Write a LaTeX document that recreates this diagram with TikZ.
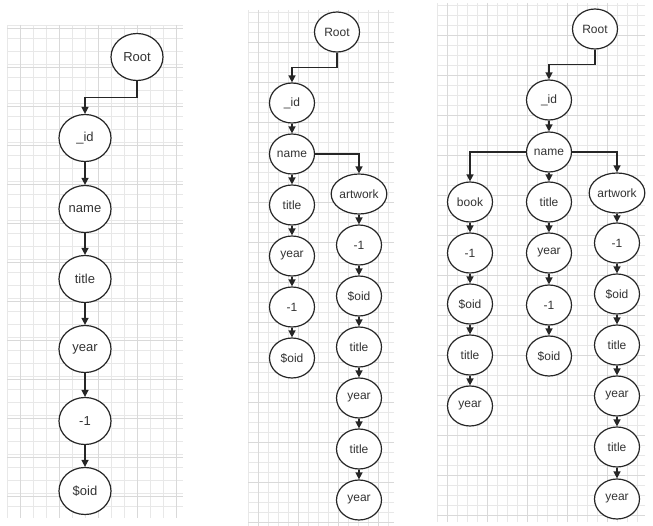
\documentclass[tikz,border=0pt]{standalone}
\usepackage{fontspec}
\setmainfont{Liberation Sans}
\usetikzlibrary{shapes.geometric,arrows.meta,calc}
\begin{document}
\begin{tikzpicture}[x=1pt,y=-1pt,
 nodeA/.style={ellipse,draw=black!85,line width=1.2pt,fill=white,minimum width=52pt,minimum height=47pt,inner sep=0pt,font=\fontsize{13}{13}\selectfont,text=black!80},
 nodeB/.style={ellipse,draw=black!85,line width=1.2pt,fill=white,minimum width=45pt,minimum height=40pt,inner sep=0pt,font=\fontsize{12}{12}\selectfont,text=black!80},
 conn/.style={line width=1.4pt,draw=black!85,-{Triangle[width=7pt,length=7pt]}},
 minor/.style={draw=black!9,line width=0.5pt},
 major/.style={draw=black!15,line width=0.7pt}]
\useasboundingbox (0,0) rectangle (653,526);
% grid panel 1
\foreach \x in {7,20,...,183} \draw[minor] (\x,25) -- (\x,518);
\foreach \y in {25,38,...,518} \draw[minor] (7,\y) -- (183,\y);
\foreach \x in {20,59,...,183} \draw[major] (\x,25) -- (\x,518);
\foreach \y in {28,67,...,518} \draw[major] (7,\y) -- (183,\y);
% grid panel 2
\foreach \x in {248,258,...,394} \draw[minor] (\x,10) -- (\x,526);
\foreach \y in {12,22,...,526} \draw[minor] (248,\y) -- (394,\y);
\foreach \x in {258,298,...,394} \draw[major] (\x,10) -- (\x,526);
\foreach \y in {42,82,...,526} \draw[major] (248,\y) -- (394,\y);
% grid panel 3
\foreach \x in {437,447,...,645} \draw[minor] (\x,3) -- (\x,522);
\foreach \y in {5,15,...,522} \draw[minor] (437,\y) -- (645,\y);
\foreach \x in {447,487,...,645} \draw[major] (\x,3) -- (\x,522);
\foreach \y in {35,75,...,522} \draw[major] (437,\y) -- (645,\y);

% panel 1
\node[nodeA] (r1) at (137,57) {Root};
\node[nodeA] (i1) at (85,138) {\_id};
\node[nodeA] (n1) at (85,209) {name};
\node[nodeA] (t1) at (85,279) {title};
\node[nodeA] (y1) at (85,349) {year};
\node[nodeA] (m1) at (85,421) {-1};
\node[nodeA] (o1) at (85,491) {\$oid};
\draw[conn] (r1.south) |- ($(r1.south)!0.5!(i1.north)$) -| (i1.north);
\draw[conn] (i1) -- (n1);
\draw[conn] (n1) -- (t1);
\draw[conn] (t1) -- (y1);
\draw[conn] (y1) -- (m1);
\draw[conn] (m1) -- (o1);

% panel 2
\node[nodeB] (r2) at (337,32) {Root};
\node[nodeB] (i2) at (292,103) {\_id};
\node[nodeB] (n2) at (292,154) {name};
\node[nodeB] (t2) at (292,205) {title};
\node[nodeB] (y2) at (292,256) {year};
\node[nodeB] (m2) at (292,307) {-1};
\node[nodeB] (o2) at (292,358) {\$oid};
\node[nodeB] (a2) at (359,194) {artwork};
\node[nodeB] (am2) at (359,245) {-1};
\node[nodeB] (ao2) at (359,296) {\$oid};
\node[nodeB] (at2) at (359,347) {title};
\node[nodeB] (ay2) at (359,398) {year};
\node[nodeB] (atb2) at (359,449) {title};
\node[nodeB] (ayb2) at (359,500) {year};
\draw[conn] (r2.south) |- ($(r2.south)!0.5!(i2.north)$) -| (i2.north);
\draw[conn] (i2) -- (n2);
\draw[conn] (n2) -- (t2);
\draw[conn] (t2) -- (y2);
\draw[conn] (y2) -- (m2);
\draw[conn] (m2) -- (o2);
\draw[conn] (n2.east) -| (a2.north);
\draw[conn] (a2) -- (am2);
\draw[conn] (am2) -- (ao2);
\draw[conn] (ao2) -- (at2);
\draw[conn] (at2) -- (ay2);
\draw[conn] (ay2) -- (atb2);
\draw[conn] (atb2) -- (ayb2);

% panel 3
\node[nodeB] (r3) at (595,29) {Root};
\node[nodeB] (i3) at (549,100) {\_id};
\node[nodeB] (n3) at (549,152) {name};
\node[nodeB] (b3) at (470,202) {book};
\node[nodeB] (bm3) at (470,253) {-1};
\node[nodeB] (bo3) at (470,304) {\$oid};
\node[nodeB] (bt3) at (470,355) {title};
\node[nodeB] (by3) at (470,406) {year};
\node[nodeB] (t3) at (549,202) {title};
\node[nodeB] (y3) at (549,253) {year};
\node[nodeB] (m3) at (549,305) {-1};
\node[nodeB] (o3) at (549,356) {\$oid};
\node[nodeB] (a3) at (617,193) {artwork};
\node[nodeB] (am3) at (617,243) {-1};
\node[nodeB] (ao3) at (617,294) {\$oid};
\node[nodeB] (at3) at (617,345) {title};
\node[nodeB] (ay3) at (617,396) {year};
\node[nodeB] (atb3) at (617,447) {title};
\node[nodeB] (ayb3) at (617,499) {year};
\draw[conn] (r3.south) |- ($(r3.south)!0.5!(i3.north)$) -| (i3.north);
\draw[conn] (i3) -- (n3);
\draw[conn] (n3.west) -| (b3.north);
\draw[conn] (n3) -- (t3);
\draw[conn] (n3.east) -| (a3.north);
\draw[conn] (b3) -- (bm3);
\draw[conn] (bm3) -- (bo3);
\draw[conn] (bo3) -- (bt3);
\draw[conn] (bt3) -- (by3);
\draw[conn] (t3) -- (y3);
\draw[conn] (y3) -- (m3);
\draw[conn] (m3) -- (o3);
\draw[conn] (a3) -- (am3);
\draw[conn] (am3) -- (ao3);
\draw[conn] (ao3) -- (at3);
\draw[conn] (at3) -- (ay3);
\draw[conn] (ay3) -- (atb3);
\draw[conn] (atb3) -- (ayb3);
\end{tikzpicture}
\end{document}
